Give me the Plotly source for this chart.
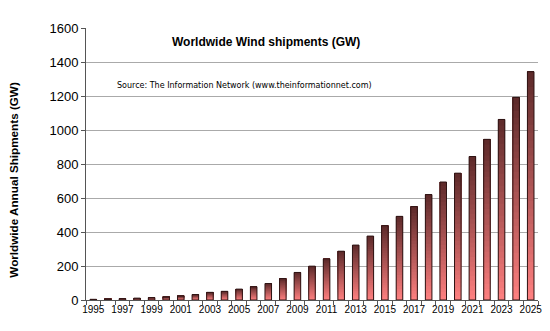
import plotly.graph_objects as go

years = [str(y) for y in range(1995, 2026)]
shipments = [4, 6, 8, 11, 14, 18, 24, 32, 45, 51, 64, 78, 97,
             126, 162, 199, 242, 287, 323, 376, 437, 492, 549, 620,
             694, 746, 844, 945, 1062, 1192, 1343]
tick_labels = [y if (int(y) - 1995) % 2 == 0 else "" for y in years]

N = 30
bottom_rgb = (255, 128, 128)
top_rgb = (92, 42, 42)

fig = go.Figure()
for i in range(N):
    t = (i + 0.5) / N
    c = tuple(round(bottom_rgb[k] + (top_rgb[k] - bottom_rgb[k]) * t) for k in range(3))
    fig.add_trace(go.Bar(
        x=years, y=[v * (N - i) / N for v in shipments], base=[v * i / N for v in shipments],
        marker=dict(color="rgb(%d,%d,%d)" % c, line=dict(width=0)),
        width=0.45, showlegend=False, hoverinfo="skip"))
fig.add_trace(go.Bar(
    x=years, y=shipments,
    marker=dict(color="rgba(0,0,0,0)", line=dict(color="#2e1414", width=1)),
    width=0.45, showlegend=False))

pw, ph = 550 - 86 - 8, 331 - 28 - 31

fig.update_layout(
    width=550, height=331, barmode="overlay",
    margin=dict(l=86, r=8, t=28, b=31),
    paper_bgcolor="white", plot_bgcolor="white",
    font=dict(family="Liberation Sans, Arial, sans-serif", color="black"),
    xaxis=dict(tickmode="array", tickvals=years, ticktext=tick_labels,
               tickfont=dict(size=10), showgrid=False, showline=True,
               linecolor="#555", linewidth=1, ticks="outside", ticklen=4,
               tickcolor="#555", tickson="boundaries", tickangle=0),
    yaxis=dict(range=[0, 1600], dtick=200, tickfont=dict(size=13),
               showgrid=True, gridcolor="#aaaaaa", gridwidth=1,
               showline=True, linecolor="#555", linewidth=1,
               ticks="outside", ticklen=4, tickcolor="#555", zeroline=False),
    annotations=[
        dict(text="<b>Worldwide Wind shipments (GW)</b>",
             x=(268 - 86) / pw, y=1 - (42 - 28) / ph, xanchor="center", yanchor="middle",
             xref="paper", yref="paper", showarrow=False,
             font=dict(size=12)),
        dict(text="Source: The Information Network (www.theinformationnet.com)",
             x=(246 - 86) / pw, y=1 - (85 - 28) / ph, xanchor="center", yanchor="middle",
             xref="paper", yref="paper", showarrow=False,
             font=dict(size=8, family="DejaVu Sans")),
        dict(text="<b>Worldwide Annual Shipments (GW)</b>", textangle=-90,
             x=(12 - 86) / pw, y=1 - (180 - 28) / ph, xanchor="center", yanchor="middle",
             xref="paper", yref="paper", showarrow=False,
             font=dict(size=11.7)),
    ],
)

fig.write_html("out.html")
